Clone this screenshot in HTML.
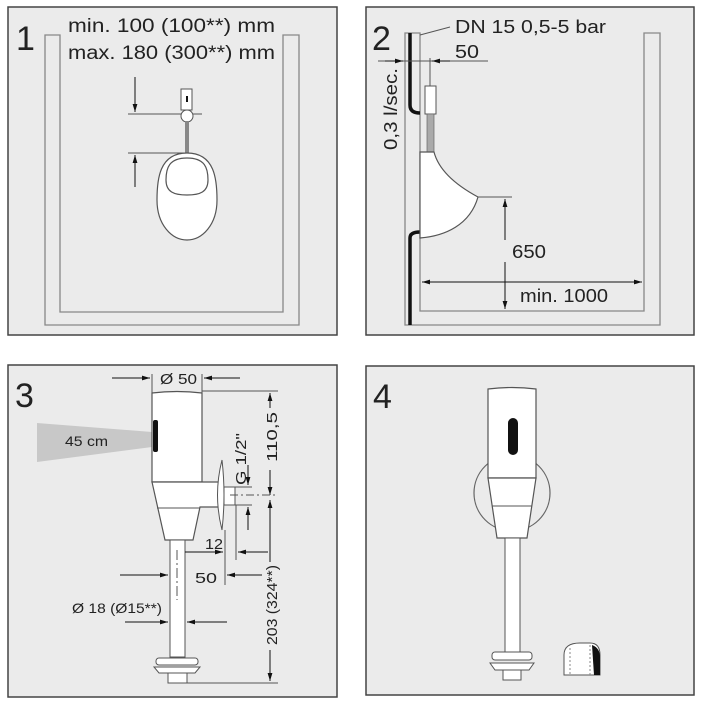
<!DOCTYPE html>
<html><head><style>body{margin:0;background:#fff}svg{display:block}</style></head><body>
<svg width="703" height="705" viewBox="0 0 703 705" xmlns="http://www.w3.org/2000/svg" font-family="Liberation Sans, sans-serif">
<defs>
<marker id="a" viewBox="0 0 10 10" refX="10" refY="5" markerWidth="8" markerHeight="8" orient="auto-start-reverse" markerUnits="userSpaceOnUse"><path d="M0,2 L10,5 L0,8 Z" fill="#111"/></marker>
</defs>
<g stroke="#444" stroke-width="1.5" fill="#ebebeb">
<rect x="8" y="7" width="329" height="328"/>
<rect x="366" y="7" width="328" height="328"/>
<rect x="8" y="365" width="329" height="332"/>
<rect x="366" y="366" width="328" height="329"/>
</g>
<g font-size="34" fill="#222">
<text x="16" y="50">1</text><text x="372" y="50">2</text><text x="15" y="407">3</text><text x="373" y="408">4</text>
</g>
<!-- Panel 1 -->
<path d="M45,35 L60,35 L60,312 L283,312 L283,35 L299,35 L299,325 L45,325 Z" fill="#ebebeb" stroke="#888" stroke-width="1.3"/>
<g font-size="19" fill="#222"><text x="68" y="32" textLength="207" lengthAdjust="spacingAndGlyphs">min.  100 (100**) mm</text><text x="68" y="59" textLength="207" lengthAdjust="spacingAndGlyphs">max. 180 (300**) mm</text></g>
<g stroke="#555" stroke-width="1" fill="none">
<line x1="128" y1="114" x2="202" y2="114"/><line x1="128" y1="153" x2="187" y2="153"/>
<line x1="135" y1="77" x2="135" y2="112" stroke="#111" marker-end="url(#a)"/>
<line x1="135" y1="187" x2="135" y2="155" stroke="#111" marker-end="url(#a)"/>
</g>
<rect x="181" y="89" width="11" height="21" fill="#fff" stroke="#555"/>
<rect x="186" y="96" width="2" height="6" fill="#111"/>
<circle cx="187" cy="116" r="6" fill="#fff" stroke="#555"/>
<rect x="185" y="121" width="4" height="32" fill="#888"/>
<path d="M187,153 C215,153 217,180 217,200 C217,225 202,240 187,240 C172,240 157,225 157,200 C157,180 159,153 187,153 Z" fill="#fff" stroke="#555" stroke-width="1.2"/>
<path d="M187,158 C205,158 208,168 208,180 C208,192 200,195 187,195 C174,195 166,192 166,180 C166,168 169,158 187,158 Z" fill="#fff" stroke="#555" stroke-width="1.2"/>
<!-- Panel 2 -->
<path d="M405,33 L420,33 L420,311 L644,311 L644,33 L660,33 L660,325 L405,325 Z" fill="#ebebeb" stroke="#888" stroke-width="1.3"/>
<path d="M410,33 L410,105 Q410,113 420,113" fill="none" stroke="#111" stroke-width="3.5"/>
<path d="M410,325 L410,238 Q410,232 420,232" fill="none" stroke="#111" stroke-width="3.5"/>
<g font-size="18" fill="#222"><text x="455" y="33" textLength="151" lengthAdjust="spacingAndGlyphs">DN 15  0,5-5 bar</text><text x="455" y="58" textLength="24" lengthAdjust="spacingAndGlyphs">50</text>
<text x="512" y="258" textLength="34" lengthAdjust="spacingAndGlyphs">650</text><text x="520" y="302" textLength="88" lengthAdjust="spacingAndGlyphs">min. 1000</text>
<text transform="translate(397,150) rotate(-90)" textLength="82" lengthAdjust="spacingAndGlyphs">0,3 l/sec.</text></g>
<line x1="420" y1="35" x2="450" y2="27" stroke="#555"/>
<g stroke="#555" stroke-width="1" fill="none">
<line x1="378" y1="61" x2="488" y2="61"/>
<line x1="385" y1="61" x2="403" y2="61" stroke="#111" marker-end="url(#a)"/>
<line x1="450" y1="61" x2="432" y2="61" stroke="#111" marker-end="url(#a)"/>
<line x1="430" y1="58" x2="430" y2="86"/>
<line x1="478" y1="197" x2="512" y2="197"/>
<line x1="505" y1="199" x2="505" y2="240" stroke="#111" marker-start="url(#a)"/>
<line x1="505" y1="262" x2="505" y2="309" stroke="#111" marker-end="url(#a)"/>
<line x1="422" y1="282" x2="642" y2="282" stroke="#111" marker-start="url(#a)" marker-end="url(#a)"/>
</g>
<rect x="425" y="86" width="11" height="28" fill="#fff" stroke="#555"/>
<rect x="427" y="114" width="7" height="38" fill="#aaa" stroke="#666" stroke-width="0.7"/>
<path d="M420,152 L434,152 C440,175 465,190 478,197 C470,225 445,236 420,238 Z" fill="#fff" stroke="#555" stroke-width="1.2"/>
<!-- Panel 3 -->
<path d="M37,423 L152,432 L152,447 L37,462 Z" fill="#c8c8c8"/>
<text x="65" y="446" font-size="14" fill="#222" textLength="43" lengthAdjust="spacingAndGlyphs">45 cm</text>
<path d="M152,393 Q177,390 202,393 L202,482 L152,482 Z" fill="#fff" stroke="#555" stroke-width="1.2"/>
<rect x="153" y="420" width="5" height="32" rx="2" fill="#111"/>
<path d="M152,482 L222,482 L222,507 L200,507 L193,540 L165,540 Z" fill="#fff" stroke="#555" stroke-width="1.2"/>
<line x1="157" y1="508" x2="200" y2="508" stroke="#555"/>
<path d="M222,460 Q213,495 222,530 Q226,495 222,460 Z" fill="#fff" stroke="#555"/>
<rect x="224" y="487" width="11" height="18" fill="#fff" stroke="#555"/>
<rect x="170" y="540" width="15" height="117" fill="#fff" stroke="#555"/>
<rect x="156" y="658" width="42" height="7" rx="3" fill="#fff" stroke="#555"/>
<path d="M154,667 L200,667 L195,673 L159,673 Z" fill="#fff" stroke="#555"/>
<rect x="168" y="673" width="19" height="10" fill="#fff" stroke="#555"/>
<g stroke="#555" stroke-width="1" fill="none">
<line x1="152" y1="374" x2="152" y2="393"/><line x1="202" y1="374" x2="202" y2="393"/>
<line x1="112" y1="378" x2="150" y2="378" stroke="#111" marker-end="url(#a)"/>
<line x1="240" y1="378" x2="204" y2="378" stroke="#111" marker-end="url(#a)"/>
<line x1="202" y1="391" x2="278" y2="391"/><line x1="187" y1="683" x2="278" y2="683"/>
<line x1="270" y1="408" x2="270" y2="393" stroke="#111" marker-end="url(#a)"/>
<line x1="270" y1="470" x2="270" y2="495" stroke="#111" marker-end="url(#a)"/>
<line x1="270" y1="500" x2="270" y2="562" stroke="#111" marker-start="url(#a)"/>
<line x1="270" y1="650" x2="270" y2="681" stroke="#111" marker-end="url(#a)"/>
<line x1="230" y1="495" x2="278" y2="495" stroke-dasharray="8,3,2,3"/>
<line x1="235" y1="487" x2="252" y2="487"/><line x1="235" y1="505" x2="252" y2="505"/>
<line x1="248" y1="465" x2="248" y2="485" stroke="#111" marker-end="url(#a)"/>
<line x1="248" y1="530" x2="248" y2="507" stroke="#111" marker-end="url(#a)"/>
<line x1="236" y1="505" x2="236" y2="560"/>
<line x1="225" y1="530" x2="225" y2="585"/>
<line x1="185" y1="552" x2="223" y2="552" stroke="#111" marker-end="url(#a)"/>
<line x1="268" y1="552" x2="238" y2="552" stroke="#111" marker-end="url(#a)"/>
<line x1="262" y1="575" x2="227" y2="575" stroke="#111" marker-end="url(#a)"/>
<line x1="120" y1="575" x2="168" y2="575" stroke="#111" marker-end="url(#a)"/>
<line x1="125" y1="622" x2="168" y2="622" stroke="#111" marker-end="url(#a)"/>
<line x1="227" y1="622" x2="187" y2="622" stroke="#111" marker-end="url(#a)"/>
<line x1="177" y1="550" x2="177" y2="600" stroke-dasharray="10,3,2,3"/>
</g>
<g fill="#222" font-size="15">
<text x="160" y="384" textLength="37" lengthAdjust="spacingAndGlyphs">Ø 50</text>
<text x="205" y="549" textLength="18" lengthAdjust="spacingAndGlyphs">12</text><text x="195" y="583" textLength="22" lengthAdjust="spacingAndGlyphs">50</text>
<text x="72" y="613" font-size="14" textLength="90" lengthAdjust="spacingAndGlyphs">Ø 18 (Ø15**)</text>
<text transform="translate(246,485) rotate(-90)" textLength="52" lengthAdjust="spacingAndGlyphs">G 1/2"</text>
<text transform="translate(277,462) rotate(-90)" textLength="50" lengthAdjust="spacingAndGlyphs">110,5</text>
<text transform="translate(277,645) rotate(-90)" textLength="80" lengthAdjust="spacingAndGlyphs">203 (324**)</text>
</g>
<!-- Panel 4 -->
<circle cx="512" cy="493" r="38" fill="#ebebeb" stroke="#666" stroke-width="1.2"/>
<path d="M488,389 Q512,386 536,389 L536,478 L488,478 Z" fill="#fff" stroke="#555" stroke-width="1.2"/>
<rect x="508" y="418" width="10" height="37" rx="5" fill="#111"/>
<path d="M488,478 L536,478 L527,538 L497,538 Z" fill="#fff" stroke="#555" stroke-width="1.2"/>
<line x1="492" y1="506" x2="532" y2="506" stroke="#555"/>
<rect x="505" y="538" width="15" height="115" fill="#fff" stroke="#555"/>
<rect x="492" y="652" width="40" height="8" rx="3" fill="#fff" stroke="#555"/>
<path d="M490,663 L534,663 L529,670 L495,670 Z" fill="#fff" stroke="#555"/>
<rect x="503" y="670" width="18" height="10" fill="#fff" stroke="#555"/>
<path d="M564,675 L564,655 Q564,643 580,643 L590,643 Q600,643 600,655 L600,675 Z" fill="#fff" stroke="#555"/>
<path d="M592,645 Q600,648 600,657 L600,675 L594,675 Z" fill="#111"/>
<line x1="570" y1="648" x2="570" y2="675" stroke="#888" stroke-dasharray="2,2"/>
<line x1="590" y1="645" x2="590" y2="675" stroke="#888" stroke-dasharray="2,2"/>
</svg>
</body></html>
